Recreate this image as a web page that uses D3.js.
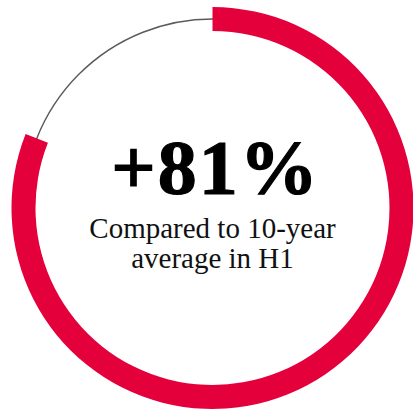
<!DOCTYPE html>
<html>
<head>
<meta charset="utf-8">
<script src="https://cdn.jsdelivr.net/npm/d3@7"></script>
<style>
  html, body { margin: 0; padding: 0; background: #fff; }
  svg { display: block; }
</style>
</head>
<body>
<script>
// share of the ring that is filled, out of 100
const value = [81]
const total = 100
const headline = ['+81%']
const caption = ['Compared to 10-year', 'average in H1']

const [width, height] = [413, 412]
const [cx, cy] = [212.5, 208]
const outerR = 201
const innerR = 177

const angle = d3.scaleLinear()
    .domain([0, total])
    .range([0, 2 * Math.PI])

const svg = d3.select('body')
    .append('svg')
        .attr('width', width)
        .attr('height', height)

const g = svg.append('g')
    .attr('transform', `translate(${cx},${cy})`)

// thin track for the whole circle
g.append('circle')
    .attr('r', (outerR + innerR) / 2)
    .attr('fill', 'none')
    .attr('stroke', '#5a5a5a')
    .attr('stroke-width', 1.4)

const arc = d3.arc()
    .innerRadius(innerR)
    .outerRadius(outerR)

g.selectAll('path.value')
    .data(value)
    .enter()
    .append('path')
        .attr('class', 'value')
        .attr('d', d => arc({ startAngle: angle(0), endAngle: angle(d) }))
        .attr('fill', '#e4003b')

g.append('text')
    .text(headline[0])
    .attr('text-anchor', 'middle')
    .attr('x', 3)
    .attr('y', -14)
    .attr('font-family', '"Liberation Serif", "DejaVu Serif", serif')
    .attr('font-weight', 'bold')
    .attr('font-size', 78)
    .attr('letter-spacing', 2)
    .attr('fill', '#000')
    .attr('stroke', '#000')
    .attr('stroke-width', 1.2)

g.selectAll('text.caption')
    .data(caption)
    .enter()
    .append('text')
        .attr('class', 'caption')
        .text(d => d)
        .attr('text-anchor', 'middle')
        .attr('x', 0)
        .attr('y', (d, i) => 30 + i * 30)
        .attr('font-family', '"Liberation Serif", "DejaVu Serif", serif')
        .attr('font-size', 29)
        .attr('fill', '#111')
</script>
</body>
</html>
